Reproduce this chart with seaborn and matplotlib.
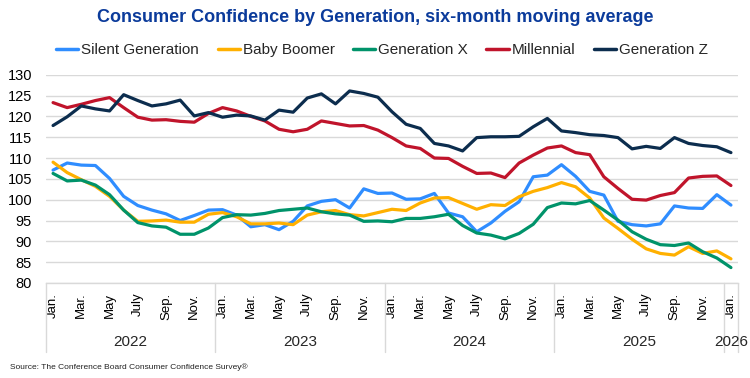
import matplotlib
matplotlib.use("Agg")
import matplotlib.pyplot as plt
import matplotlib.transforms as mtransforms
import seaborn as sns
import pandas as pd

# six-month moving averages, Jan 2022 .. Jan 2026 (monthly)
months = ["Jan.", "Feb.", "Mar.", "Apr.", "May", "June", "July", "Aug.", "Sep.", "Oct.", "Nov.", "Dec."]
years = ["2022", "2023", "2024", "2025", "2026"]

silent = [107.1, 108.8, 108.3, 108.2, 105.1, 100.8, 98.6, 97.5, 96.6, 95.0, 96.2, 97.5,
          97.6, 96.3, 93.5, 94.0, 92.8, 94.8, 98.5, 99.6, 100.0, 98.0, 102.6, 101.5,
          101.6, 100.1, 100.2, 101.5, 96.8, 95.9, 92.3, 94.4, 97.2, 99.5, 105.5, 105.9,
          108.4, 105.6, 102.0, 101.1, 94.8, 94.0, 93.7, 94.2, 98.5, 98.0, 97.9, 101.2,
          98.7]
boomer = [109.0, 106.5, 104.8, 103.2, 100.8, 97.5, 94.8, 94.9, 95.1, 94.6, 94.6, 96.5,
          96.9, 95.9, 94.2, 94.2, 94.4, 94.0, 96.3, 97.1, 97.4, 96.4, 96.1, 96.9,
          97.7, 97.4, 99.2, 100.4, 100.5, 99.1, 97.7, 98.8, 98.6, 100.7, 102.0, 102.9,
          104.1, 103.1, 100.4, 95.6, 93.1, 90.5, 88.2, 87.1, 86.7, 88.7, 87.1, 87.7,
          85.8]
genx = [106.3, 104.5, 104.7, 103.5, 101.2, 97.5, 94.5, 93.7, 93.4, 91.7, 91.7, 93.2,
        95.7, 96.4, 96.3, 96.7, 97.4, 97.7, 98.0, 97.1, 96.6, 96.3, 94.8, 94.9,
        94.7, 95.5, 95.5, 95.9, 96.5, 93.8, 92.0, 91.5, 90.6, 91.9, 94.1, 98.1,
        99.2, 99.0, 99.8, 97.5, 95.1, 92.3, 90.5, 89.2, 89.0, 89.6, 87.5, 86.0,
        83.7]
millennial = [123.3, 122.1, 122.9, 123.8, 124.5, 122.1, 119.8, 119.1, 119.2, 118.8, 118.6, 120.7,
              122.1, 121.3, 120.0, 118.9, 116.9, 116.3, 116.9, 118.9, 118.3, 117.7, 117.8, 116.7,
              114.9, 112.9, 112.3, 110.0, 109.9, 108.0, 106.3, 106.4, 105.3, 108.8, 110.7, 112.4,
              112.9, 111.3, 110.8, 105.5, 102.7, 100.1, 99.9, 101.0, 101.7, 105.2, 105.6, 105.7,
              103.4]
genz = [117.8, 119.9, 122.5, 121.8, 121.3, 125.2, 123.8, 122.5, 123.0, 123.9, 120.1, 120.9,
        119.8, 120.3, 120.1, 119.1, 121.5, 121.0, 124.4, 125.4, 123.0, 126.1, 125.5, 124.6,
        121.1, 118.1, 117.1, 113.5, 112.9, 111.7, 114.9, 115.1, 115.1, 115.2, 117.5, 119.5,
        116.5, 116.1, 115.6, 115.4, 114.9, 112.2, 112.8, 112.3, 114.9, 113.5, 113.0, 112.7,
        111.3]

series = {
    "Silent Generation": silent,
    "Baby Boomer": boomer,
    "Generation X": genx,
    "Millennial": millennial,
    "Generation Z": genz,
}
colors = {
    "Silent Generation": "#2F8DFF",
    "Baby Boomer": "#FFB000",
    "Generation X": "#00936A",
    "Millennial": "#C0142B",
    "Generation Z": "#0C2D4E",
}

n = len(genz)
frames = []
for name, vals in series.items():
    frames.append(pd.DataFrame({"idx": range(n), "value": vals, "gen": name}))
df = pd.concat(frames, ignore_index=True)

sns.set_style("white")
plt.rcParams["font.family"] = ["Liberation Sans", "DejaVu Sans"]

fig = plt.figure(figsize=(7.5, 3.78), dpi=100)
ax = fig.add_axes([46 / 750, 1 - 283 / 378, (738 - 46) / 750, (283 - 74.7) / 378])

sns.lineplot(data=df, x="idx", y="value", hue="gen", hue_order=list(series.keys()),
             palette=colors, linewidth=2.3, ax=ax, legend=True)

ax.set_xlim(-0.5, n - 0.5)
ax.set_ylim(80, 130)
ax.set_yticks(range(80, 131, 5))
ax.yaxis.grid(True, color="#D9D9D9", linewidth=1.0)
ax.set_axisbelow(True)
for s in ["left", "right", "top"]:
    ax.spines[s].set_visible(False)
ax.spines["bottom"].set_color("#D9D9D9")
ax.spines["bottom"].set_linewidth(1.0)
ax.set_xlabel("")
ax.set_ylabel("")
ax.tick_params(axis="y", length=0, pad=10, labelsize=10.5, labelcolor="black")

# month tick labels every other month
ticks = list(range(0, n, 2))
labels = [months[i % 12] for i in ticks]
ax.set_xticks(ticks)
ax.set_xticklabels(labels, rotation=90, fontsize=9.5, color="black")
ax.tick_params(axis="x", length=0, pad=7)

# year groups and separators below the axis
trans = mtransforms.blended_transform_factory(ax.transData, ax.transAxes)
for b in [-0.5, 11.5, 23.5, 35.5, 47.5, n - 0.5]:
    ax.plot([b, b], [0, -0.33], color="#D9D9D9", linewidth=1.0, transform=trans, clip_on=False)
for k, yr in enumerate(years):
    if k < 4:
        center = 12 * k + 5.5
    else:
        center = 48
    ax.text(center, -0.282, yr, transform=trans, ha="center", va="center", fontsize=11)

# legend across the top
handles, lbls = ax.get_legend_handles_labels()
ax.legend(handles, lbls, loc="center", bbox_to_anchor=(382 / 750, 1 - 50 / 378),
          bbox_transform=fig.transFigure, ncol=5, frameon=False, fontsize=11,
          handlelength=1.45, handletextpad=0.2, columnspacing=1.2)
for line in ax.get_legend().get_lines():
    line.set_linewidth(2.5)

fig.text(0.5, 1 - 18 / 378, "Consumer Confidence by Generation, six-month moving average",
         ha="center", va="center", fontsize=13, fontweight="bold", color="#0B3B9B")
fig.text(10 / 750, 1 - 367 / 378, "Source: The Conference Board Consumer Confidence Survey\u00ae",
         ha="left", va="center", fontsize=6, color="#222222")

plt.savefig("out.png", dpi=100)
